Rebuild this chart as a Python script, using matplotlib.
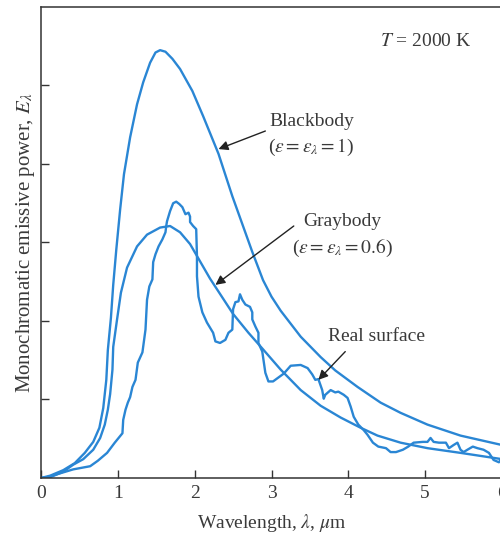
import numpy as np
import matplotlib
matplotlib.use("Agg")
import matplotlib.pyplot as plt

# wavelength (um) / monochromatic emissive power (arbitrary units)
bb_wl = [0.00, 0.12, 0.29, 0.44, 0.57, 0.68, 0.76, 0.81, 0.85, 0.87, 0.91, 0.94, 0.98,
         1.03, 1.08, 1.16, 1.25, 1.33, 1.42, 1.49, 1.55, 1.62, 1.71, 1.81, 1.97, 2.11,
         2.31, 2.49, 2.75, 2.89, 3.00, 3.12, 3.38, 3.64, 3.83, 4.12, 4.42, 4.68, 5.03,
         5.46, 6.00]
bb_e = [0.00, 0.03, 0.10, 0.19, 0.32, 0.46, 0.64, 0.89, 1.25, 1.63, 2.04, 2.46, 2.91,
        3.42, 3.87, 4.34, 4.76, 5.04, 5.29, 5.42, 5.45, 5.43, 5.34, 5.21, 4.93, 4.61,
        4.13, 3.59, 2.88, 2.52, 2.31, 2.13, 1.80, 1.54, 1.37, 1.16, 0.96, 0.83, 0.68,
        0.54, 0.42]

gb_wl = [0.00, 0.12, 0.29, 0.42, 0.55, 0.68, 0.77, 0.83, 0.87, 0.90, 0.93, 0.94, 0.99,
         1.04, 1.12, 1.25, 1.38, 1.55, 1.68, 1.81, 1.94, 2.07, 2.20, 2.36, 2.50, 2.70,
         2.88, 3.12, 3.38, 3.64, 3.90, 4.16, 4.38, 4.68, 5.03, 5.46, 6.00]
gb_e = [0.00, 0.01, 0.08, 0.17, 0.24, 0.36, 0.51, 0.68, 0.87, 1.07, 1.38, 1.67, 2.02,
        2.36, 2.68, 2.95, 3.10, 3.19, 3.21, 3.13, 2.98, 2.76, 2.54, 2.30, 2.09, 1.85,
        1.65, 1.38, 1.12, 0.92, 0.77, 0.64, 0.54, 0.45, 0.38, 0.32, 0.24]

real_wl = [0.00, 0.08, 0.25, 0.42, 0.64, 0.74, 0.86, 0.96, 1.06, 1.07, 1.10, 1.13, 1.16,
           1.19, 1.23, 1.26, 1.32, 1.36, 1.38, 1.41, 1.45, 1.46, 1.49, 1.53, 1.58, 1.62,
           1.63, 1.64, 1.68, 1.72, 1.76, 1.80, 1.84, 1.88, 1.92, 1.94, 1.94, 1.98, 2.02,
           2.03, 2.03, 2.05, 2.10, 2.16, 2.24, 2.27, 2.33, 2.40, 2.44, 2.49, 2.50, 2.53,
           2.57, 2.59, 2.62, 2.66, 2.72, 2.75, 2.75, 2.79, 2.83, 2.83, 2.88, 2.92, 2.96,
           3.02, 3.09, 3.16, 3.25, 3.38, 3.47, 3.53, 3.57, 3.61, 3.66, 3.68, 3.70, 3.77,
           3.83, 3.87, 3.94, 3.99, 4.03, 4.07, 4.13, 4.20, 4.25, 4.32, 4.39, 4.49, 4.55,
           4.62, 4.71, 4.78, 4.85, 4.97, 5.03, 5.07, 5.11, 5.18, 5.27, 5.31, 5.37, 5.42,
           5.46, 5.50, 5.55, 5.62, 5.68, 5.76, 5.83, 5.89, 5.96, 6.00]
real_e = [0.00, 0.01, 0.06, 0.11, 0.15, 0.22, 0.32, 0.45, 0.57, 0.74, 0.87, 0.96, 1.03,
          1.16, 1.25, 1.47, 1.60, 1.89, 2.27, 2.44, 2.53, 2.75, 2.85, 2.95, 3.04, 3.13,
          3.21, 3.27, 3.40, 3.50, 3.52, 3.49, 3.45, 3.36, 3.38, 3.33, 3.26, 3.21, 3.17,
          2.82, 2.57, 2.31, 2.11, 1.98, 1.85, 1.74, 1.72, 1.76, 1.85, 1.89, 2.15, 2.24,
          2.25, 2.34, 2.27, 2.21, 2.18, 2.11, 2.02, 1.93, 1.85, 1.72, 1.61, 1.34, 1.23,
          1.23, 1.28, 1.33, 1.43, 1.44, 1.40, 1.32, 1.25, 1.26, 1.12, 1.01, 1.06, 1.12,
          1.09, 1.10, 1.06, 1.02, 0.91, 0.78, 0.68, 0.61, 0.55, 0.45, 0.40, 0.38, 0.33,
          0.33, 0.36, 0.40, 0.45, 0.46, 0.46, 0.51, 0.46, 0.45, 0.45, 0.38, 0.42, 0.45,
          0.36, 0.33, 0.36, 0.40, 0.38, 0.36, 0.32, 0.23, 0.20, 0.26]

x_ticks = [0, 1, 2, 3, 4, 5, 6]
y_ticks = [1, 2, 3, 4, 5]

plt.rcParams["font.family"] = ["Liberation Serif", "DejaVu Serif"]
plt.rcParams["mathtext.fontset"] = "stix"

blue = "#2a86d4"
txt = "#3a3a3a"
fs = 14

fig = plt.figure(figsize=(5, 5.33), dpi=100)
ax = fig.add_axes([0.082, 0.1032, 0.922, 0.8837])

for wl, e in [(bb_wl, bb_e), (gb_wl, gb_e), (real_wl, real_e)]:
    ax.plot(wl, e, color=blue, lw=1.7, solid_joinstyle="round")

ax.set_xlim(0, 6)
ax.set_ylim(0, 6)
ax.set_xticks(x_ticks)
ax.set_yticks(y_ticks)
ax.set_yticklabels([])
ax.tick_params(direction="in", length=6, width=1, colors="#333333",
               labelsize=fs, labelcolor=txt, pad=5)
ax.spines["right"].set_visible(False)
for s in ["left", "bottom", "top"]:
    ax.spines[s].set_color("#333333")
    ax.spines[s].set_linewidth(1.1)

ax.set_xlabel(r"Wavelength, $\lambda$, $\mu$m", fontsize=fs, color=txt, labelpad=7)
ax.set_ylabel(r"Monochromatic emissive power, $E_\lambda$", fontsize=15, color=txt, labelpad=-2)

ax.text(5.01, 5.56, r"$T$ = 2000 K", fontsize=fs, color=txt, ha="center", va="center")
ax.text(3.52, 4.36, "Blackbody\n" + r"($\varepsilon = \varepsilon_\lambda = 1$)",
        fontsize=fs, color=txt, ha="center", va="center", linespacing=1.45)
ax.text(3.92, 3.08, "Graybody\n" + r"($\varepsilon = \varepsilon_\lambda = 0.6$)",
        fontsize=fs, color=txt, ha="center", va="center", linespacing=1.45)
ax.text(4.37, 1.80, "Real surface", fontsize=fs, color=txt, ha="center", va="center")

arrow = dict(arrowstyle="-|>", color="#222222", lw=1.0, mutation_scale=14, shrinkA=0, shrinkB=0)
ax.annotate("", xy=(2.31, 4.19), xytext=(2.92, 4.42), arrowprops=arrow)
ax.annotate("", xy=(2.27, 2.46), xytext=(3.29, 3.21), arrowprops=arrow)
ax.annotate("", xy=(3.61, 1.25), xytext=(3.96, 1.61), arrowprops=arrow)

fig.savefig("out.png", dpi=100)
